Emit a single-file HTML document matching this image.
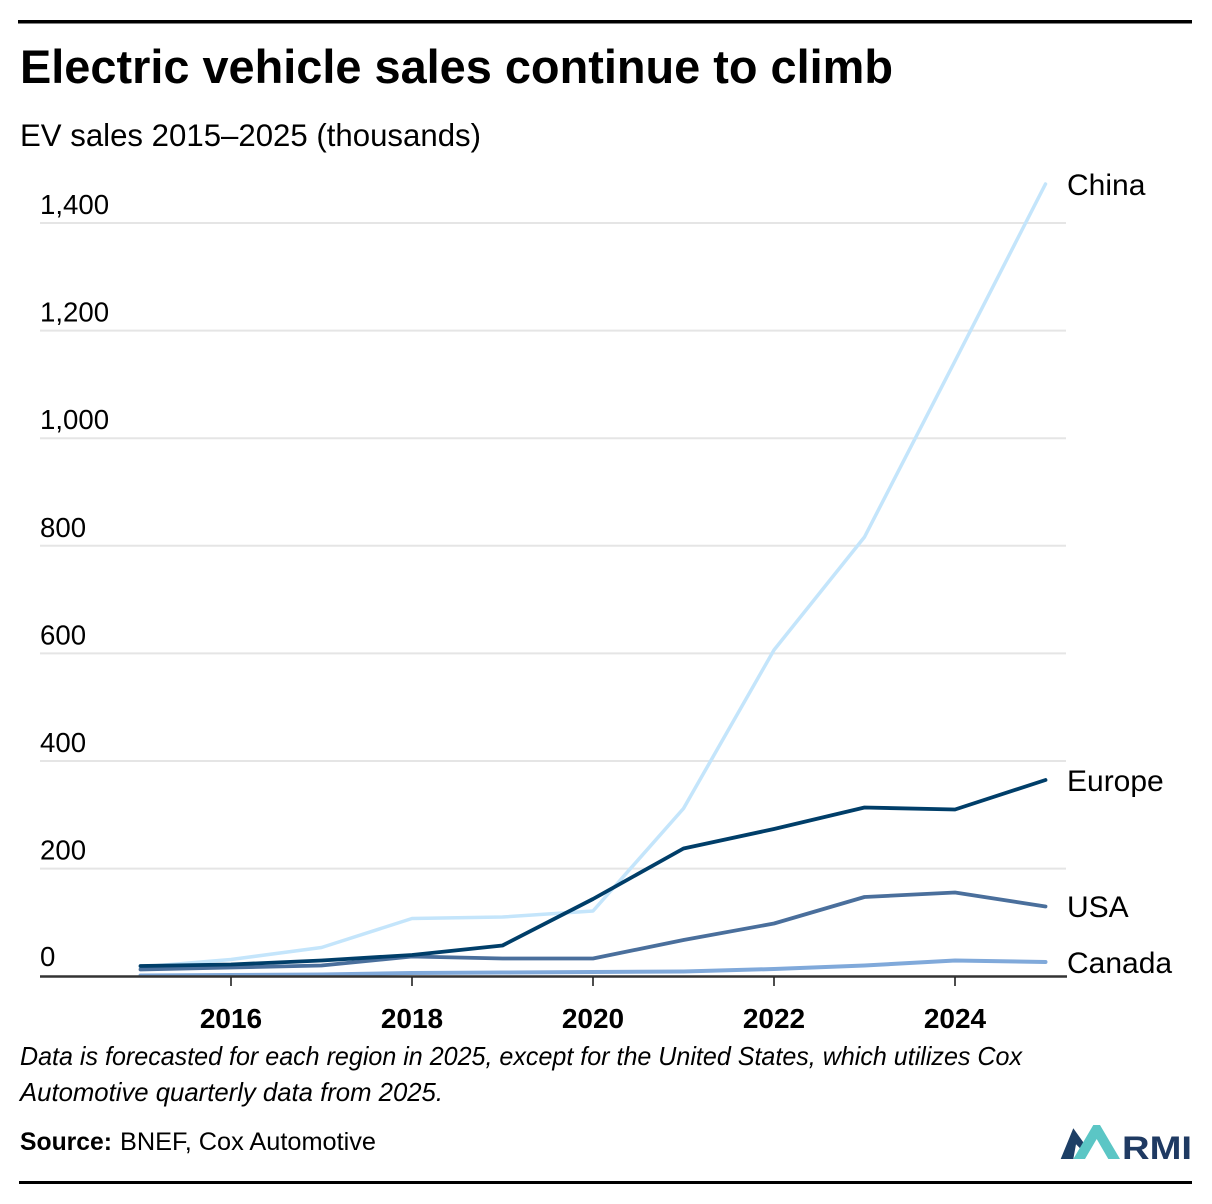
<!DOCTYPE html>
<html>
<head>
<meta charset="utf-8">
<style>
  html, body { margin: 0; padding: 0; background: #ffffff; }
  svg { display: block; }
  text { font-family: "Liberation Sans", "DejaVu Sans", sans-serif; }
</style>
</head>
<body>
<svg width="1212" height="1204" viewBox="0 0 1212 1204" xmlns="http://www.w3.org/2000/svg">
  <rect x="0" y="0" width="1212" height="1204" fill="#ffffff"/>

  <!-- top rule -->
  <rect x="18" y="20" width="1174" height="3.5" fill="#000000"/>

  <!-- title -->
  <text x="20" y="83" font-size="47" font-weight="bold" fill="#000" textLength="873" lengthAdjust="spacingAndGlyphs">Electric vehicle sales continue to climb</text>
  <!-- subtitle -->
  <text x="20" y="146" font-size="31.5" fill="#000" textLength="461" lengthAdjust="spacingAndGlyphs">EV sales 2015–2025 (thousands)</text>

  <!-- gridlines -->
  <g stroke="#e5e5e5" stroke-width="2">
    <line x1="40" y1="223" x2="1066" y2="223"/>
    <line x1="40" y1="330.6" x2="1066" y2="330.6"/>
    <line x1="40" y1="438.2" x2="1066" y2="438.2"/>
    <line x1="40" y1="545.8" x2="1066" y2="545.8"/>
    <line x1="40" y1="653.4" x2="1066" y2="653.4"/>
    <line x1="40" y1="761" x2="1066" y2="761"/>
    <line x1="40" y1="868.6" x2="1066" y2="868.6"/>
  </g>

  <!-- y tick labels -->
  <g font-size="27.6" fill="#000">
    <text x="40" y="214">1,400</text>
    <text x="40" y="321.6">1,200</text>
    <text x="40" y="429.2">1,000</text>
    <text x="40" y="536.8">800</text>
    <text x="40" y="644.4">600</text>
    <text x="40" y="752">400</text>
    <text x="40" y="859.6">200</text>
    <text x="40" y="966">0</text>
  </g>

  <!-- series -->
  <g fill="none" stroke-linejoin="round" stroke-linecap="round">
    <!-- Canada -->
    <polyline stroke="#80a9da" stroke-width="4"
      points="140.5,975.5 231,975 321.5,974.5 412,973 502.5,972.5 593,972 683.5,971.5 774,969 864.5,965.5 955,960.5 1045.5,962"/>
    <!-- China -->
    <polyline stroke="#c4e5fb" stroke-width="3.5"
      points="140.5,967 231,959.5 321.5,947.5 412,918.5 502.5,917 593,911 683.5,808.5 774,650 864.5,537 955,361 1045.5,184"/>
    <!-- USA -->
    <polyline stroke="#4a6f9c" stroke-width="3.8"
      points="140.5,969.5 231,967.5 321.5,965.5 412,956.5 502.5,958.5 593,958.5 683.5,940 774,923.5 864.5,897 955,892.5 1045.5,906.5"/>
    <!-- Europe -->
    <polyline stroke="#003e69" stroke-width="3.8"
      points="140.5,966 231,964.5 321.5,960.5 412,955 502.5,945.5 593,899 683.5,848.5 774,829 864.5,807.5 955,809.5 1045.5,780"/>
  </g>

  <!-- x axis -->
  <line x1="40" y1="976.5" x2="1067" y2="976.5" stroke="#333333" stroke-width="2.5"/>
  <g stroke="#222" stroke-width="1.6">
    <line x1="231" y1="977" x2="231" y2="986"/>
    <line x1="412" y1="977" x2="412" y2="986"/>
    <line x1="593" y1="977" x2="593" y2="986"/>
    <line x1="774" y1="977" x2="774" y2="986"/>
    <line x1="955" y1="977" x2="955" y2="986"/>
  </g>
  <g font-size="28" font-weight="bold" fill="#000" text-anchor="middle">
    <text x="231" y="1028">2016</text>
    <text x="412" y="1028">2018</text>
    <text x="593" y="1028">2020</text>
    <text x="774" y="1028">2022</text>
    <text x="955" y="1028">2024</text>
  </g>

  <!-- series labels -->
  <g font-size="30" fill="#000">
    <text x="1067" y="195">China</text>
    <text x="1067" y="791">Europe</text>
    <text x="1067" y="917">USA</text>
    <text x="1067" y="973">Canada</text>
  </g>

  <!-- note -->
  <g font-size="26" font-style="italic" fill="#000">
    <text x="20" y="1065" textLength="1002" lengthAdjust="spacingAndGlyphs">Data is forecasted for each region in 2025, except for the United States, which utilizes Cox</text>
    <text x="20" y="1101" textLength="423" lengthAdjust="spacingAndGlyphs">Automotive quarterly data from 2025.</text>
  </g>

  <!-- source -->
  <text x="20" y="1150" font-size="25" font-weight="bold" fill="#000" textLength="92" lengthAdjust="spacingAndGlyphs">Source:</text>
  <text x="120" y="1150" font-size="25" fill="#000" textLength="256" lengthAdjust="spacingAndGlyphs">BNEF, Cox Automotive</text>

  <!-- RMI logo -->
  <polygon fill="#1d3f66" points="1060.7,1159 1073.3,1128.3 1084,1143.3 1080,1148.3 1076,1144.3 1073.3,1159"/>
  <polygon fill="#5bc6c5" points="1073.3,1159 1093.3,1125 1100,1125 1120,1159 1108.3,1159 1096.7,1139 1085,1159"/>
  <text x="1122" y="1159" font-size="32" font-weight="bold" fill="#1f3a62" textLength="70" lengthAdjust="spacingAndGlyphs">RMI</text>

  <!-- bottom rule -->
  <rect x="19" y="1181" width="1173" height="3" fill="#000000"/>
</svg>
</body>
</html>
